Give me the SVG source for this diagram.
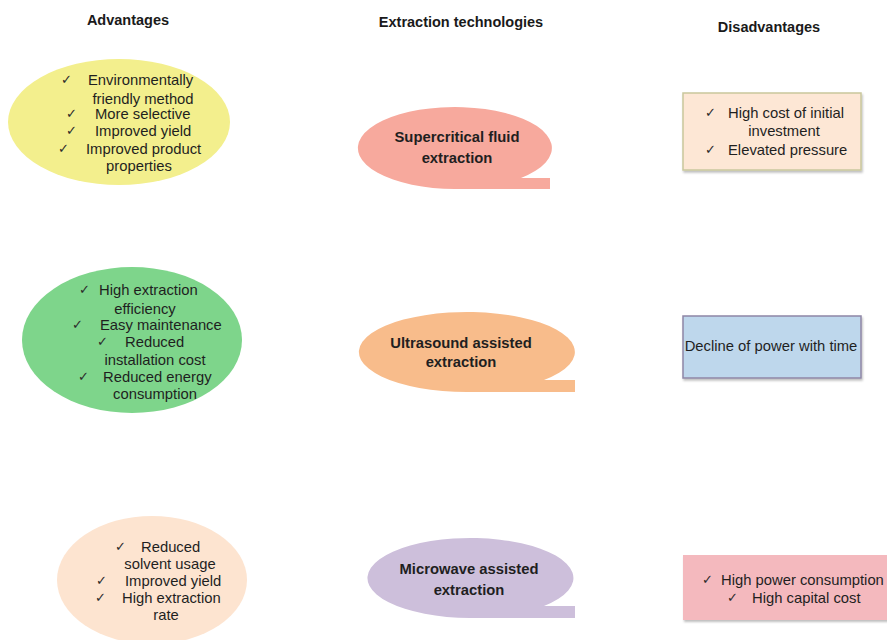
<svg xmlns="http://www.w3.org/2000/svg" width="887" height="640" viewBox="0 0 887 640">
  <style>
    .title { font-family: "Liberation Sans", Arial, sans-serif; font-size: 14.5px; font-weight: bold; fill: #1a1a1a; }
    .tech { font-family: "Liberation Sans", Arial, sans-serif; font-size: 14.8px; font-weight: bold; fill: #1f1f1f; text-anchor: middle; }
    .t { font-family: "Liberation Sans", Arial, sans-serif; font-size: 14.8px; fill: #1f1f1f; }
    .c { text-anchor: middle; }
    .ck { font-family: "DejaVu Sans", sans-serif; font-size: 13px; fill: #2a2a2a; }
    .box { stroke-width: 1.5; }
  </style>
  <defs>
    <filter id="shadow" x="-10%" y="-10%" width="130%" height="140%">
      <feDropShadow dx="1" dy="2" stdDeviation="1.2" flood-color="#000" flood-opacity="0.25"/>
    </filter>
  </defs>
  <rect width="887" height="640" fill="#ffffff"/>

  <!-- column headings -->
  <text class="title" x="128" y="25" text-anchor="middle">Advantages</text>
  <text class="title" x="461" y="27" text-anchor="middle">Extraction technologies</text>
  <text class="title" x="769" y="32" text-anchor="middle">Disadvantages</text>

  <!-- advantages: supercritical fluid -->
  <g id="adv-scf">
    <ellipse cx="119" cy="122" rx="111" ry="63" fill="#f3ef8d"/>
    <text class="ck" x="61" y="84">✓</text>
    <text class="t" x="88" y="85">Environmentally</text>
    <text class="t c" x="143" y="104">friendly method</text>
    <text class="ck" x="66" y="118">✓</text>
    <text class="t" x="95" y="119">More selective</text>
    <text class="ck" x="66" y="135">✓</text>
    <text class="t" x="95" y="136">Improved yield</text>
    <text class="ck" x="58" y="153">✓</text>
    <text class="t" x="86" y="154">Improved product</text>
    <text class="t c" x="139" y="171">properties</text>
  </g>

  <!-- advantages: ultrasound -->
  <g id="adv-us">
    <ellipse cx="132" cy="340" rx="110" ry="73" fill="#7ed58b"/>
    <text class="ck" x="79" y="294">✓</text>
    <text class="t" x="99" y="295">High extraction</text>
    <text class="t c" x="145" y="314">efficiency</text>
    <text class="ck" x="72" y="329">✓</text>
    <text class="t" x="100" y="330">Easy maintenance</text>
    <text class="ck" x="97" y="346">✓</text>
    <text class="t" x="125" y="347">Reduced</text>
    <text class="t c" x="155" y="365">installation cost</text>
    <text class="ck" x="78" y="381">✓</text>
    <text class="t" x="103" y="382">Reduced energy</text>
    <text class="t c" x="155" y="399">consumption</text>
  </g>

  <!-- advantages: microwave -->
  <g id="adv-mw">
    <ellipse cx="152" cy="580" rx="95" ry="64" fill="#fde4d0"/>
    <text class="ck" x="115" y="551">✓</text>
    <text class="t" x="141" y="552">Reduced</text>
    <text class="t c" x="170" y="569">solvent usage</text>
    <text class="ck" x="96" y="585">✓</text>
    <text class="t" x="125" y="586">Improved yield</text>
    <text class="ck" x="95" y="602">✓</text>
    <text class="t" x="122" y="603">High extraction</text>
    <text class="t c" x="166" y="620">rate</text>
  </g>

  <!-- extraction technologies (callout bubbles) -->
  <g id="tech-scf">
    <path d="M521,178 A97,41 0 1 0 455,189 L550,189 L550,178 Z" fill="#f7a99d"/>
    <text class="tech" x="457" y="142">Supercritical fluid</text>
    <text class="tech" x="457" y="163">extraction</text>
  </g>
  <g id="tech-us">
    <path d="M544,380 A108,40 0 1 0 467,392 L575,392 L575,380 Z" fill="#f8bc8b"/>
    <text class="tech" x="461" y="348">Ultrasound assisted</text>
    <text class="tech" x="461" y="367">extraction</text>
  </g>
  <g id="tech-mw">
    <path d="M544,606 A103,40 0 1 0 470,618 L575,618 L575,606 Z" fill="#cdbfdb"/>
    <text class="tech" x="469" y="574">Microwave assisted</text>
    <text class="tech" x="469" y="595">extraction</text>
  </g>

  <!-- disadvantages -->
  <g id="dis-scf">
    <rect class="box" x="683" y="93" width="178" height="77" fill="#fde7d5" stroke="#c9c79c" filter="url(#shadow)"/>
    <text class="ck" x="705" y="117">✓</text>
    <text class="t" x="728" y="118">High cost of initial</text>
    <text class="t c" x="784" y="136">investment</text>
    <text class="ck" x="705" y="154">✓</text>
    <text class="t" x="728" y="155">Elevated pressure</text>
  </g>
  <g id="dis-us">
    <rect class="box" x="683" y="316" width="178" height="62" fill="#bed7ec" stroke="#8f86a6" filter="url(#shadow)"/>
    <text class="t c" x="771" y="351">Decline of power with time</text>
  </g>
  <g id="dis-mw">
    <rect x="683" y="555" width="210" height="65" fill="#f4b9be" filter="url(#shadow)"/>
    <text class="ck" x="702" y="584">✓</text>
    <text class="t" x="721" y="585">High power consumption</text>
    <text class="ck" x="727" y="602">✓</text>
    <text class="t" x="752" y="603">High capital cost</text>
  </g>
</svg>
